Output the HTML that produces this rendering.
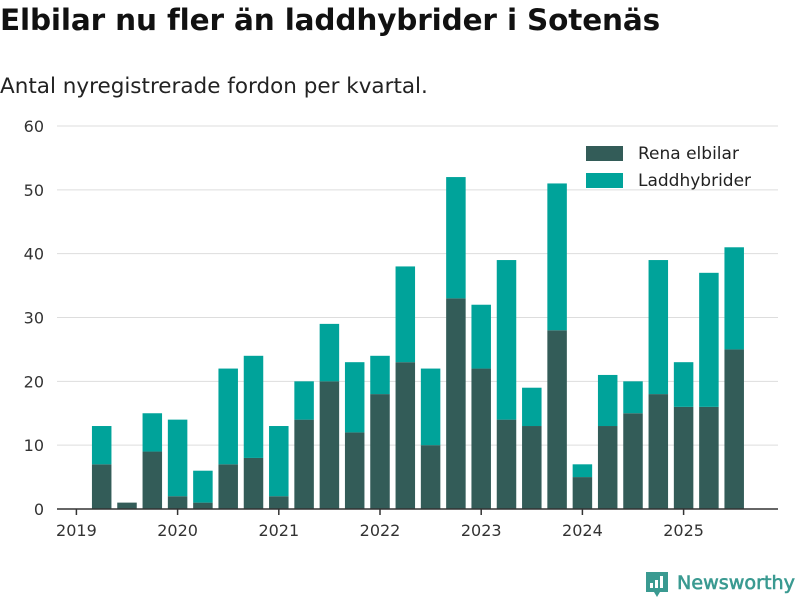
<!DOCTYPE html>
<html><head><meta charset="utf-8"><style>
body{margin:0;background:#fff;font-family:"DejaVu Sans","Liberation Sans",sans-serif;}
#wrap{position:relative;width:800px;height:600px;overflow:hidden}
h1{position:absolute;left:0;top:3px;margin:0;font-size:29.5px;font-weight:bold;color:#111;letter-spacing:-0.15px}
.sub{position:absolute;left:0;top:74px;font-size:21.5px;color:#222}
</style></head><body>
<div id="wrap">
<h1>Elbilar nu fler än laddhybrider i Sotenäs</h1>
<div class="sub">Antal nyregistrerade fordon per kvartal.</div>
<svg id="chart" width="800" height="600" style="position:absolute;left:0;top:0"></svg>
</div>
<script>
const categories=["2019Q1","2019Q2","2019Q3","2019Q4","2020Q1","2020Q2","2020Q3","2020Q4","2021Q1","2021Q2","2021Q3","2021Q4","2022Q1","2022Q2","2022Q3","2022Q4","2023Q1","2023Q2","2023Q3","2023Q4","2024Q1","2024Q2","2024Q3","2024Q4","2025Q1","2025Q2","2025Q3"];
const elbilar=[0,7,1,9,2,1,7,8,2,14,20,12,18,23,10,33,22,14,13,28,5,13,15,18,16,16,25];
const totals=[0,13,1,15,14,6,22,24,13,20,29,23,24,38,22,52,32,39,19,51,7,21,20,39,23,37,41];
const laddhybrider=totals.map((t,i)=>t-elbilar[i]);
const yTicks=[0,10,20,30,40,50,60];
const xTickLabels=["2019","2020","2021","2022","2023","2024","2025"];
const xTickIndex=[0,4,8,12,16,20,24];

const svg=document.getElementById('chart');
const NS="http://www.w3.org/2000/svg";
const y0=509, yTop=126, yMax=60;
const y=v=>y0-(v/yMax)*(y0-yTop);
const step=25.3, x0=76.4, bw=19.5;
const x=i=>x0+i*step;
function mk(t,a){const e=document.createElementNS(NS,t);for(const k in a)e.setAttribute(k,a[k]);svg.appendChild(e);return e;}
yTicks.forEach(v=>{
 if(v>0){const g=mk('line',{x1:57,x2:778,y1:y(v),y2:y(v),stroke:'#dddddd','stroke-width':1});
 
 }
 const t=mk('text',{x:44,y:y(v)+6,'text-anchor':'end','font-size':16,fill:'#333','font-family':'DejaVu Sans, Liberation Sans, sans-serif'});
 t.textContent=v;
 
 
});
categories.forEach((c,i)=>{
 if(elbilar[i]>0){const r=mk('rect',{x:x(i)-bw/2,y:y(elbilar[i]),width:bw,height:y0-y(elbilar[i]),fill:'#335c58'});
 
 }
 if(laddhybrider[i]>0){const r2=mk('rect',{x:x(i)-bw/2,y:y(totals[i]),width:bw,height:y(elbilar[i])-y(totals[i]),fill:'#00a39a'});
 
 }
});
const ax=mk('line',{x1:57,x2:778,y1:y0,y2:y0,stroke:'#333','stroke-width':1.5});


xTickLabels.forEach((l,k)=>{
 const xi=x(xTickIndex[k]);
 const tk=mk('line',{x1:xi,x2:xi,y1:y0,y2:y0+6,stroke:'#333','stroke-width':1.5});
 
 
 const t=mk('text',{x:xi,y:536,'text-anchor':'middle','font-size':16,fill:'#333','font-family':'DejaVu Sans, Liberation Sans, sans-serif'});
 t.textContent=l;
 
 
});
[["Rena elbilar","#335c58",146],["Laddhybrider","#00a39a",173]].forEach(([n,c,yy])=>{
 const r=mk('rect',{x:586,y:yy,width:37,height:15,fill:c});
 
 
 const t=mk('text',{x:638,y:yy+13,'font-size':17,fill:'#222','font-family':'DejaVu Sans, Liberation Sans, sans-serif'});
 t.textContent=n;
 
 
});
const lg=mk('path',{d:'M646 572 h22 v20 h-8 l-3 5 l-3 -5 h-8 z',fill:'#3a9a91'});


[[650,583,3,5],[655,580,3,8],[660,576,3,12]].forEach(b=>{const r=mk('rect',{x:b[0],y:b[1],width:b[2],height:b[3],fill:'#fff'});
 
 });
const lt=mk('text',{x:677,y:589,'font-size':19,'font-weight':'normal',stroke:'#3a9a91','stroke-width':0.6,fill:'#3a9a91','font-family':'DejaVu Sans, Liberation Sans, sans-serif',textLength:118,lengthAdjust:'spacingAndGlyphs'});
lt.textContent='Newsworthy';


</script>
</body></html>
